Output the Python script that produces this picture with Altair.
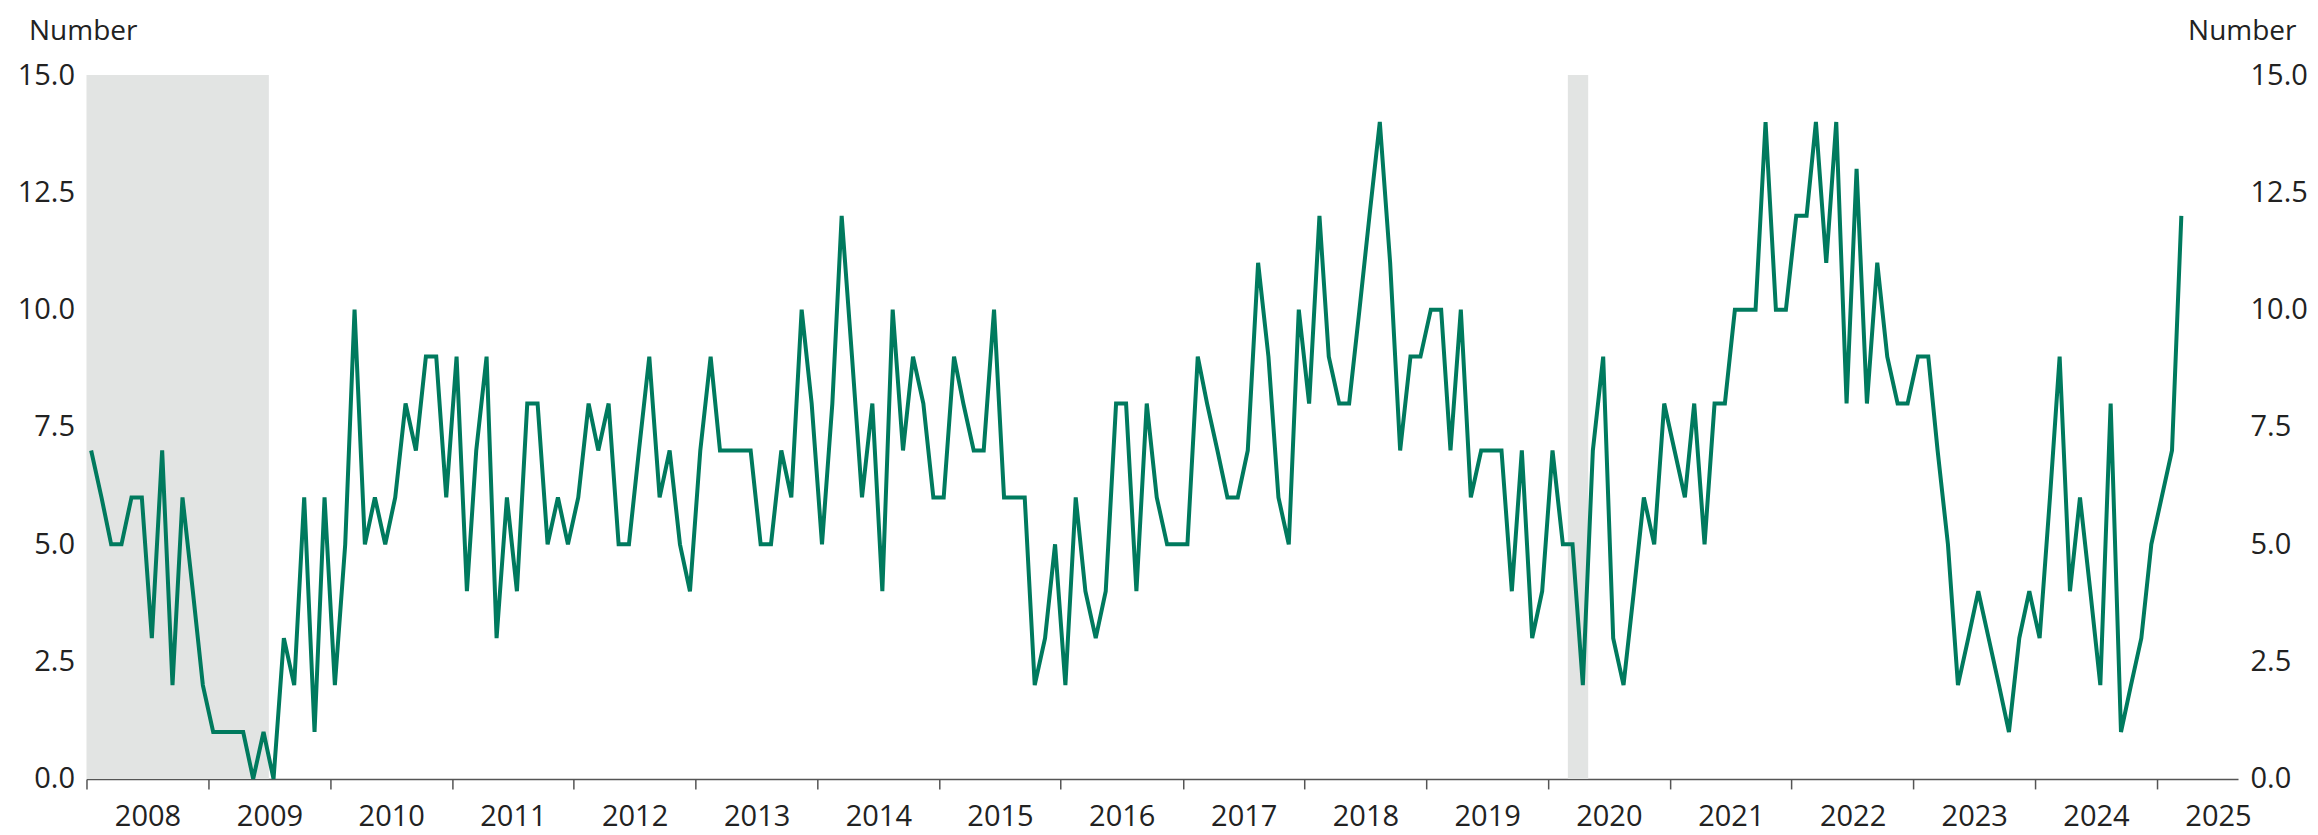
import altair as alt
import pandas as pd

# ---- data (monthly counts, Jan 2008 - Mar 2025) ----
start_month = "2008-01-01"
values = [
    7, 6, 5, 5, 6, 6, 3, 7, 2, 6, 4, 2,        # 2008
    1, 1, 1, 1, 0, 1, 0, 3, 2, 6, 1, 6,        # 2009
    2, 5, 10, 5, 6, 5, 6, 8, 7, 9, 9, 6,       # 2010
    9, 4, 7, 9, 3, 6, 4, 8, 8, 5, 6, 5,        # 2011
    6, 8, 7, 8, 5, 5, 7, 9, 6, 7, 5, 4,        # 2012
    7, 9, 7, 7, 7, 7, 5, 5, 7, 6, 10, 8,       # 2013
    5, 8, 12, 9, 6, 8, 4, 10, 7, 9, 8, 6,      # 2014
    6, 9, 8, 7, 7, 10, 6, 6, 6, 2, 3, 5,       # 2015
    2, 6, 4, 3, 4, 8, 8, 4, 8, 6, 5, 5,        # 2016
    5, 9, 8, 7, 6, 6, 7, 11, 9, 6, 5, 10,      # 2017
    8, 12, 9, 8, 8, 10, 12, 14, 11, 7, 9, 9,   # 2018
    10, 10, 7, 10, 6, 7, 7, 7, 4, 7, 3, 4,     # 2019
    7, 5, 5, 2, 7, 9, 3, 2, 4, 6, 5, 8,        # 2020
    7, 6, 8, 5, 8, 8, 10, 10, 10, 14, 10, 10,  # 2021
    12, 12, 14, 11, 14, 8, 13, 8, 11, 9, 8, 8, # 2022
    9, 9, 7, 5, 2, 3, 4, 3, 2, 1, 3, 4,        # 2023
    3, 6, 9, 4, 6, 4, 2, 8, 1, 2, 3, 5,        # 2024
    6, 7, 12,                                  # 2025
]

recession_start = ["2008-01-01T00:00:00", "2020-03-01T00:00:00"]
recession_end = ["2009-07-01T00:00:00", "2020-05-01T00:00:00"]

year_ticks = list(range(2008, 2026))
y_ticks = [0, 2.5, 5, 7.5, 10, 12.5, 15]

months = pd.date_range(start_month, periods=len(values), freq="MS") + pd.Timedelta(days=14)
df = pd.DataFrame({"date": months.strftime("%Y-%m-%dT00:00:00"), "value": values})
rec = pd.DataFrame({"start": recession_start, "end": recession_end})

FONT = "Open Sans"
TEXT = "#222222"
LINE = "#007a5e"
SHADE = "#e2e4e3"
LABEL_SIZE = 29

x_domain = [alt.DateTime(year=2008, month=1, date=1), alt.DateTime(year=2025, month=9, date=1)]
x_scale = alt.Scale(domain=x_domain)
y_scale = alt.Scale(domain=[0, 15], nice=False, zero=True)

x_axis = alt.Axis(
    values=[alt.DateTime(year=y, month=1, date=1) for y in year_ticks],
    format="%Y", title=None, grid=False,
    labelOffset=61, labelFlush=False, labelOverlap=False,
    labelBaseline="alphabetic", labelPadding=37, tickSize=10,
    tickColor="#555555", tickWidth=1.5, domainColor="#555555", domainWidth=1.5,
    labelFont=FONT, labelFontSize=LABEL_SIZE, labelColor=TEXT,
)

def y_axis(orient, tx, align):
    return alt.Axis(
        orient=orient, values=y_ticks, format=".1f", grid=False, ticks=False, domain=False,
        labelPadding=12, labelFont=FONT, labelFontSize=LABEL_SIZE, labelColor=TEXT,
        title="Number", titleAngle=0, titleX=tx, titleY=-36, titleAlign=align,
        titleBaseline="alphabetic", titleFont=FONT, titleFontSize=28,
        titleFontWeight="normal", titleColor=TEXT,
    )

shade = alt.Chart(rec).mark_rect(color=SHADE).encode(
    x=alt.X("start:T", scale=x_scale, axis=x_axis),
    x2="end:T",
    y=alt.datum(0, type="quantitative", scale=y_scale, axis=None),
    y2=alt.datum(15),
)

line = alt.Chart(df).mark_line(color=LINE, strokeWidth=4).encode(
    x=alt.X("date:T", scale=x_scale, axis=x_axis),
    y=alt.Y("value:Q", scale=y_scale, axis=y_axis("left", -58, "left")),
)

right = alt.Chart(df).mark_line(opacity=0).encode(
    x=alt.X("date:T", scale=x_scale, axis=x_axis),
    y=alt.Y("value:Q", scale=y_scale, axis=y_axis("right", 58, "right")),
)

chart = (
    alt.layer(shade, line, right)
    .resolve_scale(y="independent")
    .properties(
        width=2152, height=704,
        autosize=alt.AutoSizeParams(type="none"),
        padding={"left": 78.5, "top": 67, "right": 72, "bottom": 56},
        background="white",
    )
    .configure_view(stroke=None)
)

chart.save("out.html", embed_options={"renderer": "svg", "actions": False})
